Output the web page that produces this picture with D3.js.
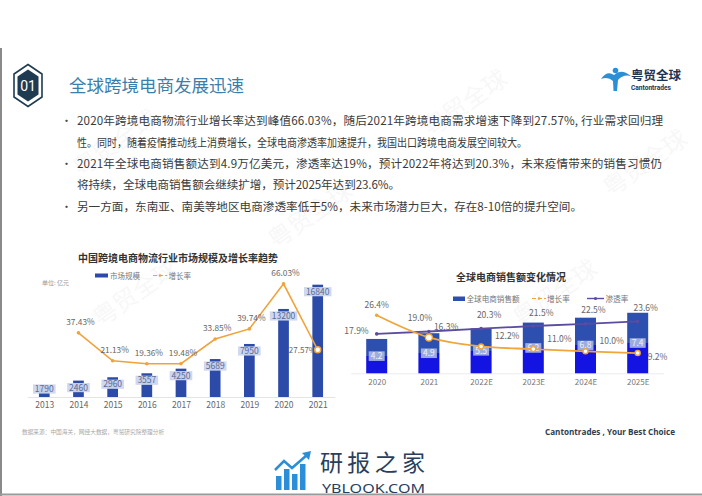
<!DOCTYPE html>
<html><head><meta charset="utf-8">
<script src="https://cdn.jsdelivr.net/npm/d3@7/dist/d3.min.js"></script>
<style>
html,body{margin:0;padding:0;background:#fff;}
svg{display:block;font-family:"Noto Sans CJK SC","Noto Sans",sans-serif;}
</style></head>
<body>
<svg id="c" width="702" height="496"></svg>
<script>
// ---------- data ----------
const bulletLines = [
  "2020年跨境电商物流行业增长率达到峰值66.03%，随后2021年跨境电商需求增速下降到27.57%, 行业需求回归理",
  "性。同时，随着疫情推动线上消费增长，全球电商渗透率加速提升，我国出口跨境电商发展空间较大。",
  "2021年全球电商销售额达到4.9万亿美元，渗透率达19%，预计2022年将达到20.3%，未来疫情带来的销售习惯仍",
  "将持续，全球电商销售额会继续扩增，预计2025年达到23.6%。",
  "另一方面，东南亚、南美等地区电商渗透率低于5%，未来市场潜力巨大，存在8-10倍的提升空间。"
];
const bulletStarts = [true, false, true, false, true];

const leftYears = ["2013","2014","2015","2016","2017","2018","2019","2020","2021"];
const marketSize = [1790, 2460, 2960, 3557, 4250, 5689, 7950, 13200, 16840];
const marketGrowth = [null, 37.43, 21.13, 19.36, 19.48, 33.85, 39.74, 66.03, 27.57];

const globalYears = ["2020","2021","2022E","2023E","2024E","2025E"];
const globalSales = [4.2, 4.9, 5.5, 6.2, 6.8, 7.4];
const globalGrowth = [26.4, 16.3, 12.2, 11.0, 10.0, 9.2];
const penetration = [17.9, 19.0, 20.3, 21.5, 22.5, 23.6];

// ---------- drawing ----------
const svg = d3.select("#c");
const FONT = '"Noto Sans CJK SC","Noto Sans",sans-serif';

// frame
svg.append("line").attr("x1",1).attr("x2",1).attr("y1",48).attr("y2",496).attr("stroke","#8a8a8a").attr("stroke-width",2);
svg.append("line").attr("x1",0).attr("x2",702).attr("y1",494.5).attr("y2",494.5).attr("stroke","#9a9a9a").attr("stroke-width",2);

// watermarks
[[120,150],[315,222],[470,110],[650,170],[560,300],[140,300]].forEach(p=>{
  svg.append("text").attr("transform",`translate(${p[0]},${p[1]}) rotate(-35)`)
    .attr("text-anchor","middle").attr("font-size",24).attr("fill","#000").attr("opacity",0.028)
    .text("粤贸全球");
});

// header hexagon
const hx = 28, hy = 85.5;
svg.append("polygon").attr("points",[[hx,64.5],[hx+14,74],[hx+14,97],[hx,106.5],[hx-14,97],[hx-14,74]].map(p=>p.join(",")).join(" "))
  .attr("fill","none").attr("stroke","#1f3b52").attr("stroke-width",1.6);
svg.append("polygon").attr("points",[[hx,69.5],[hx+10.5,76.5],[hx+10.5,94.5],[hx,101.5],[hx-10.5,94.5],[hx-10.5,76.5]].map(p=>p.join(",")).join(" "))
  .attr("fill","#1f3b52");
svg.append("text").attr("x",hx).attr("y",hy+5).attr("text-anchor","middle").attr("fill","#fff")
  .attr("font-size",14).attr("font-family","Roboto, sans-serif").text("01");
svg.append("text").attr("x",69).attr("y",91.5).attr("fill","#3a7fab").attr("font-size",17.5).text("全球跨境电商发展迅速");

// logo top right
const lg = svg.append("g");
lg.append("path").attr("d","M601,79 Q607,70 614,75 Q621,68 631,76 Q623,74 618,80 L617,91 L613.5,91 L613,81 Q608,76 601,79 Z").attr("fill","#2b8fd6");
lg.append("circle").attr("cx",615.5).attr("cy",70.5).attr("r",2.8).attr("fill","#2b8fd6");
lg.append("text").attr("x",631).attr("y",80).attr("font-size",12.5).attr("font-weight",700).attr("fill","#1e3350").text("粤贸全球");
lg.append("text").attr("x",631).attr("y",89.5).attr("font-size",6.6).attr("font-weight",700).attr("fill","#1e3350").attr("font-family","Roboto, sans-serif").text("Cantontrades");

// bullets
const lineY = [121, 143, 164, 185, 207];
const lineEnd = [663, 527, 662, 400, 582];
bulletLines.forEach((t,i)=>{
  if (bulletStarts[i]) svg.append("text").attr("x",61).attr("y",lineY[i]+4).attr("font-size",11).attr("fill","#444").text("•");
  svg.append("text").attr("x",77).attr("y",lineY[i]+4).attr("font-size",11.6).attr("fill","#3a3a3a")
    .attr("textLength",lineEnd[i]-77).attr("lengthAdjust", i===1 ? "spacingAndGlyphs" : "spacing").text(t);
});

// ===== left chart =====
const L = svg.append("g");
const base1 = 397;
const xL = d3.scalePoint().domain(leftYears).range([27.2, 334.8]).padding(0.5);
const yL = d3.scaleLinear().domain([0, 20000]).range([base1, base1-133.4]);
const yLr = d3.scaleLinear().domain([0, 80]).range([base1, base1-137.1]);

L.append("text").attr("x",178).attr("y",261.5).attr("text-anchor","middle").attr("font-size",10).attr("font-weight",700).attr("fill","#333")
  .text("中国跨境电商物流行业市场规模及增长率趋势");
// legend
L.append("rect").attr("x",95).attr("y",273.5).attr("width",13).attr("height",4).attr("fill","#2c4ba8");
L.append("text").attr("x",110).attr("y",278.5).attr("font-size",7.5).attr("fill","#777").text("市场规模");
L.append("line").attr("x1",153).attr("x2",167).attr("y1",275.5).attr("y2",275.5).attr("stroke","#f0a23b").attr("stroke-width",1.2).attr("stroke-dasharray","4,2");
L.append("circle").attr("cx",160).attr("cy",275.5).attr("r",1.3).attr("fill","#f0a23b");
L.append("text").attr("x",168.5).attr("y",278.5).attr("font-size",7.5).attr("fill","#777").text("增长率");
L.append("text").attr("x",42).attr("y",284.5).attr("font-size",6).attr("fill","#999").text("单位: 亿元");

// axis
const axL = L.append("g").attr("transform",`translate(0,${base1})`).call(d3.axisBottom(xL).tickSize(0).tickPadding(5));
axL.select(".domain").attr("stroke","#e4e4e4");
axL.selectAll("text").attr("font-size",8.5).attr("fill","#666").attr("font-family",FONT);

// bars
const bw1 = 10.7;
L.selectAll(".b1").data(leftYears).join("rect").attr("class","b1")
  .attr("x",d=>xL(d)-bw1/2).attr("width",bw1)
  .attr("y",(d,i)=>yL(marketSize[i])).attr("height",(d,i)=>base1-yL(marketSize[i]))
  .attr("fill","#2c4ba8");
leftYears.forEach((d,i)=>{
  const top = yL(marketSize[i]);
  const cy = Math.min(top+7, base1-8);
  const txt = String(marketSize[i]);
  const w = txt.length*4.9+3;
  L.append("rect").attr("x",xL(d)-w/2).attr("y",cy-4.6).attr("width",w).attr("height",9.2).attr("fill","#cdd6ee").attr("opacity",0.95);
  L.append("text").attr("x",xL(d)).attr("y",cy+3).attr("text-anchor","middle").attr("font-size",8.5).attr("fill","#5a6b94").attr("font-family",FONT).text(txt);
});

// growth line
const lineL = d3.line().defined(d=>d.v!=null).x(d=>xL(d.k)).y(d=>yLr(d.v));
const gData = leftYears.map((k,i)=>({k, v: marketGrowth[i]}));
L.append("path").datum(gData).attr("d",lineL).attr("fill","none").attr("stroke","#f0a23b").attr("stroke-width",1.6);
gData.forEach((d,i)=>{
  if (d.v==null) return;
  const last = i===gData.length-1;
  const t = L.append("text").attr("font-size",last?8:8.3).attr("fill","#666").attr("font-family",FONT).text(d.v.toFixed(2)+"%");
  if (last) t.attr("x",xL(d.k)-1.5).attr("y",yLr(d.v)+3).attr("text-anchor","end");
  else t.attr("x",xL(d.k)+2).attr("y",yLr(d.v)-8).attr("text-anchor","middle");
  L.append("circle").attr("cx",xL(d.k)).attr("cy",yLr(d.v)).attr("r", last?3:1.8)
    .attr("fill", last?"#fff":"#f0a23b").attr("stroke","#f0a23b").attr("stroke-width", last?1.5:0);
});

// source
svg.append("text").attr("x",22).attr("y",434).attr("font-size",5.7).attr("fill","#a8a8a8").text("数据来源：中国海关，网经大数据，粤贸研究院整理分析");

// ===== right chart =====
const R = svg.append("g");
const base2 = 373.3;
const xR = d3.scalePoint().domain(globalYears).range([350.6, 663.8]).padding(0.5);
const yR = d3.scaleLinear().domain([0, 10]).range([base2, base2-81.8]);
const yR2 = d3.scaleLinear().domain([0, 30]).range([base2, base2-66]);

R.append("text").attr("x",511).attr("y",281).attr("text-anchor","middle").attr("font-size",10).attr("font-weight",700).attr("fill","#333")
  .text("全球电商销售额变化情况");
// legend
R.append("rect").attr("x",453).attr("y",296.5).attr("width",12).attr("height",4.5).attr("fill","#2c4fb0");
R.append("text").attr("x",466.5).attr("y",301.5).attr("font-size",7.6).attr("fill","#777").text("全球电商销售额");
R.append("line").attr("x1",532).attr("x2",546).attr("y1",298.5).attr("y2",298.5).attr("stroke","#f0a63a").attr("stroke-width",1.2).attr("stroke-dasharray","4,2");
R.append("circle").attr("cx",539).attr("cy",298.5).attr("r",1.3).attr("fill","#f0a63a");
R.append("text").attr("x",547).attr("y",301.5).attr("font-size",7.6).attr("fill","#777").text("增长率");
R.append("line").attr("x1",587).attr("x2",604).attr("y1",298.5).attr("y2",298.5).attr("stroke","#5b4c9f").attr("stroke-width",1.4);
R.append("circle").attr("cx",595.5).attr("cy",298.5).attr("r",1.6).attr("fill","#5b4c9f");
R.append("text").attr("x",605.5).attr("y",301.5).attr("font-size",7.6).attr("fill","#777").text("渗透率");

// gradient
const grad = svg.append("defs").append("linearGradient").attr("id","rg").attr("x1",0).attr("y1",0).attr("x2",0).attr("y2",1);
[[0,"#2d4fb0"],[0.5,"#2d4fb0"],[0.5,"#1414e2"],[1,"#1414e2"]].forEach(s=>grad.append("stop").attr("offset",s[0]).attr("stop-color",s[1]));

// axis
const axR = R.append("g").attr("transform",`translate(0,${base2})`).call(d3.axisBottom(xR).tickSize(0).tickPadding(6.5));
axR.select(".domain").attr("stroke","#ececec");
axR.selectAll("text").attr("font-size",8).attr("fill","#777").attr("font-family",FONT);

// bars
const bw2 = 21;
R.selectAll(".b2").data(globalYears).join("rect").attr("class","b2")
  .attr("x",d=>xR(d)-bw2/2).attr("width",bw2)
  .attr("y",(d,i)=>yR(globalSales[i])).attr("height",(d,i)=>base2-yR(globalSales[i]))
  .attr("fill","url(#rg)");
globalYears.forEach((d,i)=>{
  const cy = (yR(globalSales[i])+base2)/2;
  R.append("rect").attr("x",xR(d)-8).attr("y",cy-4.8).attr("width",16).attr("height",9.6).attr("fill","#a7b6e2").attr("opacity",0.92);
  R.append("text").attr("x",xR(d)).attr("y",cy+3).attr("text-anchor","middle").attr("font-size",8.5).attr("fill","#eef1f8").attr("font-family",FONT).text(globalSales[i].toFixed(1));
});

// lines
const pData = globalYears.map((k,i)=>({k, v: penetration[i]}));
const oData = globalYears.map((k,i)=>({k, v: globalGrowth[i]}));
R.append("path").datum(pData).attr("d",d3.line().x(d=>xR(d.k)).y(d=>yR2(d.v))).attr("fill","none").attr("stroke","#5b4c9f").attr("stroke-width",1.8);
R.append("path").datum(oData).attr("d",d3.line().curve(d3.curveMonotoneX).x(d=>xR(d.k)).y(d=>yR2(d.v))).attr("fill","none").attr("stroke","#f0a63a").attr("stroke-width",1.8);
pData.forEach((d,i)=>{
  R.append("circle").attr("cx",xR(d.k)).attr("cy",yR2(d.v)).attr("r",1.8).attr("fill","#5b4c9f");
});
oData.forEach((d,i)=>{
  const big = i===1;
  R.append("circle").attr("cx",xR(d.k)).attr("cy",yR2(d.v)).attr("r", i===0?1.8:(big?3.5:2.5))
    .attr("fill", i===0?"#f0a63a":"#fff").attr("stroke","#f0a63a").attr("stroke-width", i===0?0:1.4);
});
// labels
pData.forEach((d,i)=>{
  const t = R.append("text").attr("font-size",8.5).attr("fill","#666").attr("font-family",FONT).text(d.v.toFixed(1)+"%");
  const x = xR(d.k), y = yR2(d.v);
  if (i===0) t.attr("x",x-8).attr("y",y+0).attr("text-anchor","end");
  else if (i===1) t.attr("x",x-9).attr("y",y-10.5).attr("text-anchor","middle");
  else t.attr("x",x+8).attr("y",y-10.5).attr("text-anchor","middle");
});
oData.forEach((d,i)=>{
  const t = R.append("text").attr("font-size",8.5).attr("fill","#666").attr("font-family",FONT).text(d.v.toFixed(1)+"%");
  const x = xR(d.k), y = yR2(d.v);
  if (i===0) t.attr("x",x).attr("y",y-7).attr("text-anchor","middle");
  else if (i===oData.length-1) t.attr("x",x+10).attr("y",y+6.5).attr("text-anchor","start");
  else t.attr("x",x+(i===1?5:14)).attr("y",y-7).attr("text-anchor","start");
});

// footer right
svg.append("text").attr("x",545).attr("y",435).attr("font-size",8.6).attr("font-weight",700)
  .attr("fill","#2c3e50").attr("font-family","'Open Sans', sans-serif")
  .attr("textLength",130).attr("lengthAdjust","spacingAndGlyphs").text("Cantontrades , Your Best Choice");

// bottom watermark logo
const wm = svg.append("g");
[[276,14],[284,21],[292,16],[300,26]].forEach(b=>{
  wm.append("rect").attr("x",b[0]).attr("y",490-b[1]).attr("width",5.5).attr("height",b[1]).attr("fill","#2a8fd8");
});
wm.append("polyline").attr("points","275,470 284,461 292,468 307,455").attr("fill","none").attr("stroke","#2a8fd8").attr("stroke-width",2.5);
wm.append("path").attr("d","M302,453 L311,451 L309,460 Z").attr("fill","#2a8fd8");
wm.append("text").attr("x",320).attr("y",471).attr("font-size",23).attr("fill","#2a3e5c")
  .attr("textLength",105).attr("lengthAdjust","spacing").text("研报之家");
wm.append("text").attr("x",322).attr("y",493).attr("font-size",13).attr("fill","#2a3e5c").attr("font-family","'Noto Sans', sans-serif")
  .attr("textLength",103).attr("lengthAdjust","spacingAndGlyphs").text("YBLOOK.COM");
</script>
</body></html>
